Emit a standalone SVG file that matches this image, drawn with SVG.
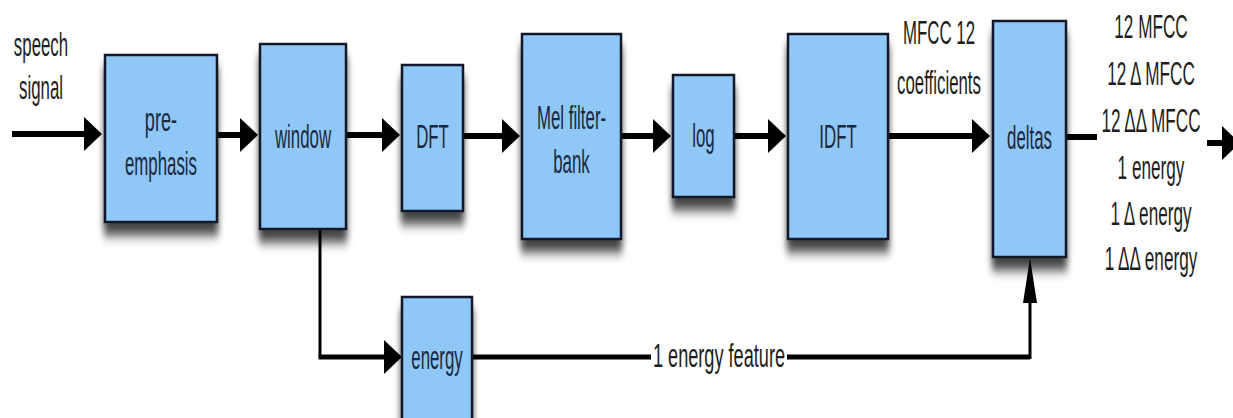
<svg xmlns="http://www.w3.org/2000/svg" width="1233" height="418" viewBox="0 0 1233 418">
<defs>
<style>
.box{fill:#8fc8f6;stroke:#16192b;stroke-width:2.5;filter:url(#sh)}
.bt{font-family:"Liberation Sans",Arial,sans-serif;font-size:33px;fill:#1b2740;text-anchor:middle}
.lt{font-family:"Liberation Sans",Arial,sans-serif;font-size:33px;fill:#1e1e1e;text-anchor:middle}
.thick{fill:none;stroke:#000;stroke-width:6}
.mid{fill:none;stroke:#000;stroke-width:5}
.thin{fill:none;stroke:#000;stroke-width:3}
</style>
<filter id="sh" x="-20%" y="-20%" width="140%" height="160%">
<feGaussianBlur in="SourceAlpha" stdDeviation="3 6"/>
<feOffset dy="12"/>
<feComponentTransfer><feFuncA type="linear" slope="0.75"/></feComponentTransfer>
<feMerge><feMergeNode/><feMergeNode in="SourceGraphic"/></feMerge>
</filter>
<marker id="ah" markerUnits="userSpaceOnUse" markerWidth="20" markerHeight="36" refX="0" refY="17" orient="auto">
<path d="M0,0 L18,17 L0,34 Z" fill="#000"/>
</marker>
<marker id="av" markerUnits="userSpaceOnUse" markerWidth="46" markerHeight="16" refX="0" refY="7" orient="auto">
<path d="M0,0 L45,7 L0,14 Z" fill="#000"/>
</marker>
</defs>
<rect width="1233" height="418" fill="#fff"/>

<g id="connectors">
<path class="thick" d="M12,134 H84" marker-end="url(#ah)"/>
<path class="thick" d="M217,135 H240" marker-end="url(#ah)"/>
<path class="thick" d="M346,135 H382" marker-end="url(#ah)"/>
<path class="thick" d="M463,136 H502" marker-end="url(#ah)"/>
<path class="thick" d="M621,136 H653" marker-end="url(#ah)"/>
<path class="thick" d="M734,136 H768" marker-end="url(#ah)"/>
<path class="thick" d="M888,136 H972" marker-end="url(#ah)"/>
<path class="thin" d="M320,229 V357"/>
<path class="mid" d="M318.5,357 H384" marker-end="url(#ah)"/>
<path class="mid" d="M472,357 H651"/>
<path class="mid" d="M787,357 H1030"/>
<path class="thin" d="M1030,359 V303" marker-end="url(#av)"/>
<path class="thick" d="M1066,137 H1097"/>
<path class="thick" d="M1207,143 H1222" marker-end="url(#ah)"/>
<text class="lt" transform="translate(719,367) scale(0.55,1)">1 energy feature</text>
</g>

<g id="speech-signal">
<text class="lt" transform="translate(41,56) scale(0.51,1)">speech</text>
<text class="lt" transform="translate(41,99) scale(0.51,1)">signal</text>
</g>

<g id="pre-emphasis">
<rect class="box" x="105" y="55" width="112" height="167"/>
<text class="bt" transform="translate(161,131) scale(0.55,1)">pre-</text>
<text class="bt" transform="translate(161,175) scale(0.51,1)">emphasis</text>
</g>

<g id="window">
<rect class="box" x="260" y="44" width="86" height="185"/>
<text class="bt" transform="translate(303,148) scale(0.51,1)">window</text>
</g>

<g id="dft">
<rect class="box" x="402" y="65" width="61" height="146"/>
<text class="bt" transform="translate(432.5,148) scale(0.51,1)">DFT</text>
</g>

<g id="mel">
<rect class="box" x="522" y="34" width="99" height="205"/>
<text class="bt" transform="translate(571.5,129) scale(0.51,1)">Mel filter-</text>
<text class="bt" transform="translate(571.5,173) scale(0.51,1)">bank</text>
</g>

<g id="log">
<rect class="box" x="673" y="75" width="61" height="122"/>
<text class="bt" transform="translate(703.5,147) scale(0.51,1)">log</text>
</g>

<g id="idft">
<rect class="box" x="788" y="34" width="100" height="205"/>
<text class="bt" transform="translate(838,148) scale(0.51,1)">IDFT</text>
</g>

<g id="mfcc-label">
<text class="lt" transform="translate(939,44) scale(0.51,1)">MFCC 12</text>
<text class="lt" transform="translate(939,94) scale(0.51,1)">coefficients</text>
</g>

<g id="deltas">
<rect class="box" x="993" y="21" width="73" height="236"/>
<text class="bt" transform="translate(1029.5,149) scale(0.51,1)">deltas</text>
</g>

<g id="energy">
<rect class="box" x="402" y="297" width="70" height="140"/>
<text class="bt" transform="translate(437,369) scale(0.51,1)">energy</text>
</g>

<g id="output-features">
<text class="lt" transform="translate(1151,38) scale(0.52,1)">12 MFCC</text>
<text class="lt" transform="translate(1151,85) scale(0.52,1)">12  Δ MFCC</text>
<text class="lt" transform="translate(1151,132) scale(0.52,1)">12 ΔΔ MFCC</text>
<text class="lt" transform="translate(1151,179) scale(0.52,1)">1 energy</text>
<text class="lt" transform="translate(1151,225) scale(0.52,1)">1 Δ energy</text>
<text class="lt" transform="translate(1151,270) scale(0.52,1)">1 ΔΔ energy</text>
</g>
</svg>
